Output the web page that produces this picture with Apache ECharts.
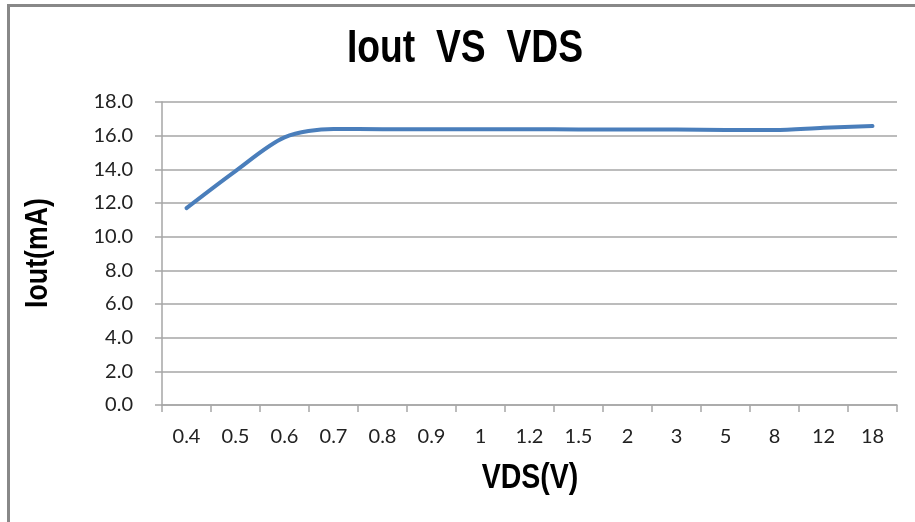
<!DOCTYPE html>
<html>
<head>
<meta charset="utf-8">
<script src="https://cdn.jsdelivr.net/npm/echarts@6/dist/echarts.min.js"></script>
<style>
  html, body { margin: 0; padding: 0; background: #fff; }
  #frame {
    position: absolute; left: 7px; top: 4px; width: 920px; height: 530px;
    border-left: 3px solid #888; border-top: 3px solid #888;
  }
  #myChart { position: absolute; left: 0; top: 0; width: 915px; height: 522px; }
</style>
</head>
<body>
<div id="frame"></div>
<div id="myChart"></div>
<script>
// VDS sweep (V) - category axis, evenly spaced like the original
const vds = ['0.4', '0.5', '0.6', '0.7', '0.8', '0.9', '1', '1.2', '1.5', '2', '3', '5', '8', '12', '18'];
// Iout (mA)
const iout = [11.7, 13.9, 15.9, 16.4, 16.38, 16.38, 16.38, 16.38, 16.37, 16.36, 16.36, 16.33, 16.33, 16.47, 16.57];

const tickFont = { fontFamily: 'Lato, "Open Sans", sans-serif', fontSize: 20, color: '#222' };
const boldFont = '"Liberation Sans", Arial, sans-serif';

let myChart = echarts.init(document.getElementById('myChart'));
myChart.setOption({
  backgroundColor: 'transparent',
  animation: false,
  // title and axis names are condensed (narrow bold font in the original)
  graphic: [
    {
      type: 'text', x: 465, y: 49, scaleX: 0.81,
      style: {
        text: 'Iout  VS  VDS', fontFamily: boldFont, fontWeight: 'bold', fontSize: 46,
        fill: '#000', align: 'center', verticalAlign: 'middle'
      }
    },
    {
      type: 'text', x: 530, y: 478, scaleX: 0.815,
      style: {
        text: 'VDS(V)', fontFamily: boldFont, fontWeight: 'bold', fontSize: 35,
        fill: '#000', align: 'center', verticalAlign: 'middle'
      }
    },
    {
      type: 'text', x: 38, y: 253, rotation: Math.PI / 2, scaleX: 0.835,
      style: {
        text: 'Iout(mA)', fontFamily: boldFont, fontWeight: 'bold', fontSize: 32,
        fill: '#000', align: 'center', verticalAlign: 'middle'
      }
    }
  ],
  grid: { left: 162, right: 18, top: 102, bottom: 117 },
  xAxis: {
    type: 'category',
    data: vds,
    boundaryGap: true,
    axisLine: { show: true, lineStyle: { color: '#a6a6a6', width: 1.5 } },
    axisTick: { show: true, length: 7, alignWithLabel: false, lineStyle: { color: '#a6a6a6', width: 1.5 } },
    axisLabel: Object.assign({ margin: 22 }, tickFont),
    splitLine: { show: false }
  },
  yAxis: {
    type: 'value',
    min: 0,
    max: 18,
    interval: 2,
    axisLine: { show: true, lineStyle: { color: '#a6a6a6', width: 1.5 } },
    axisTick: { show: true, inside: false, length: 7, lineStyle: { color: '#a6a6a6', width: 1.5 } },
    axisLabel: Object.assign({ margin: 29, formatter: v => v.toFixed(1) }, tickFont),
    splitLine: { show: true, lineStyle: { color: '#a6a6a6', width: 1.5 } }
  },
  series: [{
    type: 'line',
    data: iout,
    smooth: 0.3,
    symbol: 'none',
    lineStyle: { color: '#4a7ebb', width: 4, cap: 'round' }
  }]
});
</script>
</body>
</html>
